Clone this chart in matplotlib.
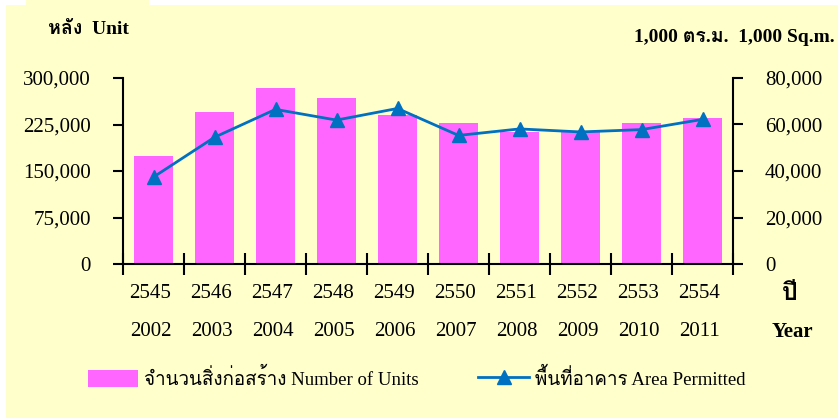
import matplotlib
matplotlib.use('Agg')
import matplotlib.pyplot as plt
from matplotlib import font_manager
from matplotlib.patches import Patch, Rectangle
from matplotlib.lines import Line2D
import matplotlib.transforms as mtransforms

# look for any installed font that can draw Thai
thai_font = None
try:
	from fontTools.ttLib import TTFont
	for path in sorted(font_manager.findSystemFonts()):
		try:
			f = TTFont(path, fontNumber=0, lazy=True)
			cmap = f.getBestCmap() or {}
			if 0x0E2B in cmap and 0x0E34 in cmap:
				thai_font = font_manager.FontProperties(fname=path).get_name()
				font_manager.fontManager.addfont(path)
				break
		except Exception:
			pass
except ImportError:
	pass

families = ['Liberation Serif']
if thai_font:
	families.append(thai_font)
families.append('DejaVu Sans')
plt.rcParams['font.family'] = families

years_be = ['2545', '2546', '2547', '2548', '2549', '2550', '2551', '2552', '2553', '2554']
years_ce = ['2002', '2003', '2004', '2005', '2006', '2007', '2008', '2009', '2010', '2011']
units = [174000, 245000, 284000, 268000, 241000, 228000, 213000, 213000, 228000, 235000]
area = [37400, 54500, 66500, 61900, 66900, 55300, 58100, 56800, 57800, 62200]

bg = '#FFFFCC'
bar_color = '#FF66FF'
line_color = '#0070C0'

fig = plt.figure(figsize=(8.38, 4.18), dpi=100, facecolor='white')
# yellow sheet behind everything (with the little tab at the top)
fig.patches.append(Rectangle((6 / 838, 0), 832 / 838, 413 / 418, transform=fig.transFigure,
	facecolor=bg, edgecolor='none', zorder=-10))
fig.patches.append(Rectangle((26 / 838, 410 / 418), 123 / 838, 8 / 418, transform=fig.transFigure,
	facecolor=bg, edgecolor='none', zorder=-10))

ax = fig.add_axes([123 / 838, 154 / 418, 610 / 838, 186 / 418])
ax.patch.set_visible(False)
x = list(range(len(years_be)))
ax.bar(x, units, width=0.64, color=bar_color, zorder=2)
ax.set_xlim(-0.5, len(x) - 0.5)
ax.set_ylim(0, 300000)
ax.set_yticks([0, 75000, 150000, 225000, 300000])
ax.set_yticklabels(['0', '75,000', '150,000', '225,000', '300,000'])
ax.set_xticks([i - 0.5 for i in range(len(x) + 1)])
ax.set_xticklabels([])
ax.tick_params(axis='x', direction='inout', length=16, width=1.5)
ax.tick_params(axis='y', direction='out', length=7, width=1.5, labelsize=15, pad=16)
for s in ['top', 'right']:
	ax.spines[s].set_visible(False)
for s in ['left', 'bottom']:
	ax.spines[s].set_linewidth(1.5)

ax2 = ax.twinx()
ax2.plot(x, area, color=line_color, linewidth=2, marker='^', markersize=10, zorder=3)
ax2.set_ylim(0, 80000)
ax2.set_yticks([0, 20000, 40000, 60000, 80000])
ax2.set_yticklabels(['0', '20,000', '40,000', '60,000', '80,000'])
ax2.tick_params(axis='y', direction='out', length=7, width=1.5, labelsize=15, pad=16)
for s in ['top', 'left', 'bottom']:
	ax2.spines[s].set_visible(False)
ax2.spines['right'].set_linewidth(1.5)

# two rows of year labels under the bars
trans = mtransforms.blended_transform_factory(ax.transData, fig.transFigure)
for i in x:
	ax.text(i - 0.05, 1 - 293 / 418, years_be[i], transform=trans, ha='center', va='center', fontsize=15)
	ax.text(i - 0.05, 1 - 331 / 418, years_ce[i], transform=trans, ha='center', va='center', fontsize=15)

fig.text(790 / 838, 1 - 294 / 418, 'ปี', ha='center', va='center', fontsize=18, fontweight='bold')
fig.text(792 / 838, 1 - 332 / 418, 'Year', ha='center', va='center', fontsize=15, fontweight='bold')

fig.text(48 / 838, 1 - 30 / 418, 'หลัง  Unit', ha='left', va='center', fontsize=14, fontweight='bold')
fig.text(835 / 838, 1 - 37 / 418, '1,000 ตร.ม.  1,000 Sq.m.', ha='right', va='center', fontsize=14, fontweight='bold')

handles = [Patch(facecolor=bar_color, edgecolor='none'),
	Line2D([], [], color=line_color, linewidth=2, marker='^', markersize=10)]
labels = ['จำนวนสิ่งก่อสร้าง Number of Units', 'พื้นที่อาคาร Area Permitted']
fig.legend(handles, labels, ncol=2, frameon=False, loc='center left',
	bbox_to_anchor=(80 / 838, 1 - 378 / 418), fontsize=13.5, handlelength=2.7,
	handleheight=1.0, handletextpad=0.3, columnspacing=3.2, borderaxespad=0)

fig.savefig('out.png', dpi=100, facecolor='white')
